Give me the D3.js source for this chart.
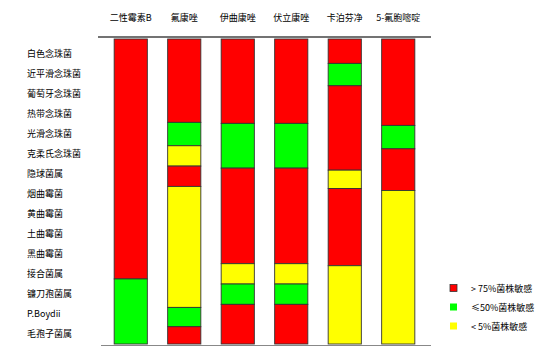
<!DOCTYPE html>
<html lang="zh">
<head>
    <meta charset="UTF-8">
    <title>抗真菌药物敏感性</title>
    <script src="https://cdn.jsdelivr.net/npm/d3@7"></script>
    <style>
        body{margin:0;background:#fff;}
        text{font-family:"Noto Sans CJK SC","DejaVu Sans",sans-serif;font-size:9px;fill:#000;}
    </style>
</head>
<body>
<svg width="548" height="360"></svg>
<script>
// drug columns and species rows
var drugs=["二性霉素B","氟康唑","伊曲康唑","伏立康唑","卡泊芬净","5-氟胞嘧啶"];
var species=["白色念珠菌","近平滑念珠菌","葡萄牙念珠菌","热带念珠菌","光滑念珠菌","克柔氏念珠菌","隐球菌属",
    "烟曲霉菌","黄曲霉菌","土曲霉菌","黑曲霉菌","接合菌属","镰刀孢菌属","P.Boydii","毛孢子菌属"];
var levels=["> 75%菌株敏感","≤50%菌株敏感","< 5%菌株敏感"];
var levelColors=["#ff0000","#00ff00","#ffff00"];

// segments from top to bottom: level index + length (in species rows)
var amphoLevels=[0,1],              amphoValues=[11.8,3.2];
var flucoLevels=[0,1,2,0,2,1,0],    flucoValues=[4.1,1.15,1.0,1.0,5.95,0.95,0.85];
var itraLevels=[0,1,0,2,1,0],       itraValues=[4.15,2.2,4.7,1.0,1.0,1.95];
var voriLevels=[0,1,0,2,1,0],       voriValues=[4.15,2.2,4.7,1.0,1.0,1.95];
var caspoLevels=[0,1,0,2,0,2],      caspoValues=[1.2,1.1,4.15,0.9,3.8,3.85];
var fcLevels=[0,1,0,2],             fcValues=[4.25,1.15,2.05,7.55];

var levelSets=[amphoLevels,flucoLevels,itraLevels,voriLevels,caspoLevels,fcLevels];
var valueSets=[amphoValues,flucoValues,itraValues,voriValues,caspoValues,fcValues];

var svg=d3.select('svg');

var xScale=d3.scaleBand()
    .domain(drugs)
    .range([104,425])
    .paddingInner(0.38)
    .paddingOuter(0.19);
var yScale=d3.scaleLinear()
    .domain([0,species.length])
    .range([39,344]);
var rowScale=d3.scalePoint()
    .domain(species)
    .range([53,333]);

// build stacked segments
var segs=[];
drugs.forEach(function(drug,i){
    var acc=0;
    levelSets[i].forEach(function(lv,j){
        var v=valueSets[i][j];
        segs.push({drug:drug,level:lv,y0:acc,y1:acc+v});
        acc+=v;
    });
});

svg.selectAll('rect.seg')
    .data(segs)
    .enter()
    .append('rect')
    .attr('class','seg')
    .attr('x',d=>xScale(d.drug))
    .attr('width',xScale.bandwidth())
    .attr('y',d=>yScale(d.y0))
    .attr('height',d=>yScale(d.y1)-yScale(d.y0))
    .attr('fill',d=>levelColors[d.level])
    .attr('stroke','#333')
    .attr('stroke-width',0.9);

// top & bottom rules
var r=xScale.range();
svg.append('line')
    .attr('x1',r[0]-6).attr('x2',r[1]+6)
    .attr('y1',yScale(0)-2).attr('y2',yScale(0)-2)
    .attr('stroke','#444').attr('stroke-width',1.5);
svg.append('line')
    .attr('x1',r[0]-3).attr('x2',r[1]+6)
    .attr('y1',yScale(species.length)+1.5).attr('y2',yScale(species.length)+1.5)
    .attr('stroke','#888').attr('stroke-width',1.2);

// column headers
svg.selectAll('text.head')
    .data(drugs)
    .enter()
    .append('text')
    .attr('class','head')
    .attr('x',d=>xScale(d)+xScale.bandwidth()/2)
    .attr('y',17)
    .attr('text-anchor','middle')
    .attr('dominant-baseline','central')
    .text(d=>d);

// row labels
svg.selectAll('text.row')
    .data(species)
    .enter()
    .append('text')
    .attr('class','row')
    .attr('x',27)
    .attr('y',d=>rowScale(d))
    .attr('dominant-baseline','central')
    .text(d=>d);

// legend
var legend=svg.selectAll('g.legend')
    .data(levels)
    .enter()
    .append('g')
    .attr('class','legend')
    .attr('transform',(d,i)=>'translate(450,'+(288+i*19)+')');
legend.append('rect')
    .attr('x',0).attr('y',-3.5)
    .attr('width',7).attr('height',7)
    .attr('fill',(d,i)=>levelColors[i])
    .attr('stroke',(d,i)=>i===0?'#333':'none')
    .attr('stroke-width',0.8);
legend.append('text')
    .attr('x',21)
    .attr('y',0)
    .attr('dominant-baseline','central')
    .text(d=>d);
</script>
</body>
</html>
